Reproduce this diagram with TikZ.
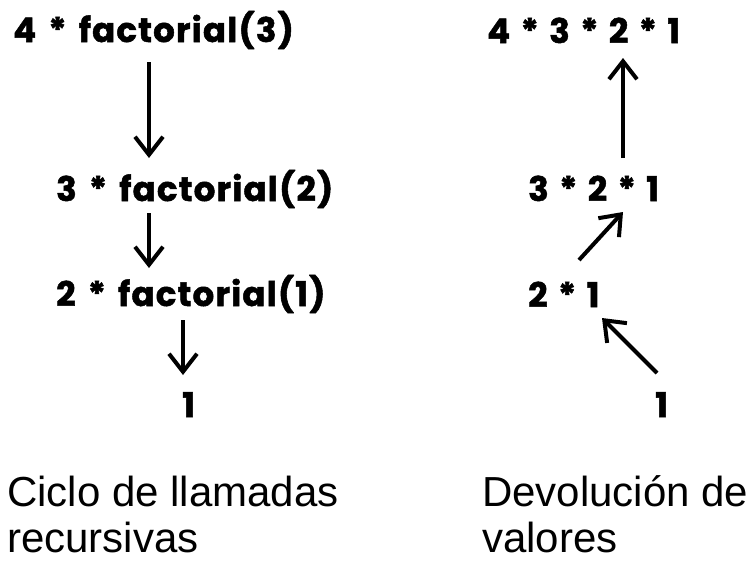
\documentclass[tikz,border=0pt]{standalone}
\usepackage{fontspec}
\setmainfont{Liberation Sans}
\newfontfamily\heavy{Poppins}[BoldFeatures={FakeBold=1.5}, WordSpace=1.45]
\newfontfamily\heavywide{Poppins}[BoldFeatures={FakeBold=1.5}, WordSpace=1.45, LetterSpace=3.5]
\usetikzlibrary{arrows.meta}
\begin{document}
\begin{tikzpicture}[x=1pt,y=-1pt,
  expr/.style={inner sep=0pt, anchor=base west, font=\heavy\bfseries\fontsize{34}{40}\selectfont},
  exprwide/.style={inner sep=0pt, anchor=base west, font=\heavywide\bfseries\fontsize{34}{40}\selectfont},
  captext/.style={inner sep=0pt, anchor=base west, align=left, font=\fontsize{42}{46}\selectfont},
  arr/.style={line width=4pt, -{Straight Barb[length=18pt,width=28pt]}}]
\useasboundingbox (0,0) rectangle (751,560);
% left column
\node[exprwide] (l1) at (13,42) {4 * factorial(3)};
\node[exprwide] (l2) at (56,201) {3 * factorial(2)};
\node[exprwide] (l3) at (56,306) {2 * factorial(1)};
\node[expr] (l4) at (182,417) {1};
% right column
\node[expr] (r1) at (487,43) {4 * 3 * 2 * 1};
\node[expr] (r2) at (528,201) {3 * 2 * 1};
\node[expr] (r3) at (528,307) {2 * 1};
\node[expr] (r4) at (655,417) {1};
% captions
\node[captext] (c1) at (7,552) {Ciclo de llamadas\\recursivas};
\node[captext] (c2) at (482,552) {Devolución de\\valores};
% arrow endpoints
\coordinate (a1s) at (149,62);  \coordinate (a1e) at (149,158);
\coordinate (a2s) at (149,213); \coordinate (a2e) at (149,268);
\coordinate (a3s) at (183,320); \coordinate (a3e) at (183,375);
\coordinate (b1s) at (623,158); \coordinate (b1e) at (623,58);
\coordinate (b2s) at (579,260); \coordinate (b2e) at (623,212);
\coordinate (b3s) at (657,373); \coordinate (b3e) at (602,318);
\draw[arr] (a1s) -- (a1e);
\draw[arr] (a2s) -- (a2e);
\draw[arr] (a3s) -- (a3e);
\draw[arr] (b1s) -- (b1e);
\draw[arr] (b2s) -- (b2e);
\draw[arr] (b3s) -- (b3e);
\end{tikzpicture}
\end{document}
